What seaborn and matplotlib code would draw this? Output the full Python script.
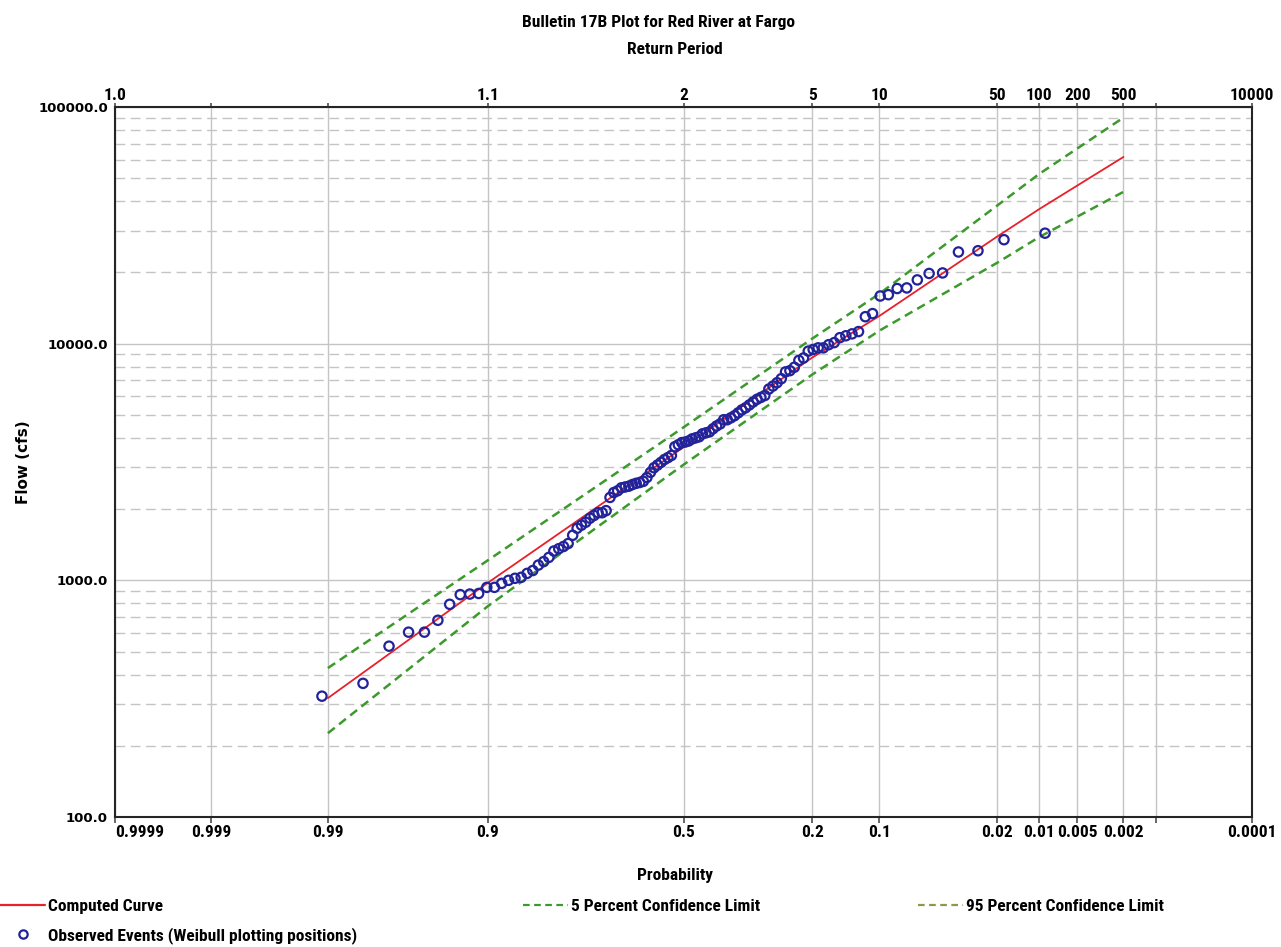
import math
from statistics import NormalDist
import numpy as np
import seaborn as sns
import matplotlib.pyplot as plt
from matplotlib.ticker import FixedLocator, LogLocator, NullFormatter

# observed annual peaks (cfs), largest first
observed_flow = [
    29300, 27500, 24700, 24400, 19900, 19800, 18600, 17200, 17100, 16100,
    15900, 13400, 13000, 11250, 11000, 10800, 10600, 10100, 9900, 9600,
    9600, 9450, 9300, 8700, 8500, 7950, 7690, 7600, 7110, 6840,
    6620, 6430, 6040, 5930, 5820, 5670, 5510, 5360, 5250, 5100,
    4960, 4860, 4770, 4770, 4580, 4490, 4370, 4240, 4200, 4160,
    4040, 4000, 3960, 3880, 3840, 3820, 3740, 3670, 3370, 3300,
    3240, 3150, 3070, 2990, 2860, 2720, 2620, 2590, 2570, 2540,
    2500, 2480, 2460, 2390, 2350, 2240, 1970, 1930, 1930, 1880,
    1830, 1760, 1710, 1660, 1550, 1430, 1390, 1360, 1330, 1250,
    1200, 1160, 1100, 1070, 1030, 1020, 1000, 971, 934, 934,
    880, 875, 870, 792, 678, 604, 604, 527, 367, 324,
]

# frequency curves
curve_prob = [0.99, 0.9, 0.5, 0.2, 0.1, 0.02, 0.01, 0.002]
computed_flow = [318, 975, 3650, 8730, 13100, 28400, 37000, 61500]
limit_5_flow = [426, 1213, 4430, 10500, 16250, 38400, 52100, 90200]
limit_95_flow = [226, 776, 3080, 7400, 11350, 22000, 28200, 43800]

# axis ticks
prob_ticks = [0.9999, 0.999, 0.99, 0.9, 0.5, 0.2, 0.1, 0.02, 0.01, 0.005, 0.002, 0.001, 0.0001]
prob_labels = ['0.9999', '0.999', '0.99', '0.9', '0.5', '0.2', '0.1', '0.02', '0.01', '0.005', '0.002', '', '0.0001']
return_labels = ['1.0', '', '', '1.1', '2', '5', '10', '50', '100', '200', '500', '', '10000']

# Weibull plotting positions m/(n+1)
n = len(observed_flow)
observed_prob = [m / (n + 1) for m in range(1, n + 1)]

_nd = NormalDist()
_inv_cdf = np.vectorize(_nd.inv_cdf, otypes=[float])
_erfc = np.vectorize(math.erfc, otypes=[float])


def fwd(p):
    p = np.clip(np.asarray(p, dtype=float), 1e-12, 1 - 1e-12)
    return -_inv_cdf(p)


def inv(z):
    return 0.5 * _erfc(np.asarray(z, dtype=float) / np.sqrt(2))


def put_high_prob_left(a):
    # make sure 0.9999 sits at the left edge, 0.0001 at the right
    a.set_xlim(0.9999, 0.0001)
    left = a.transData.transform((0.9999, 1000))[0]
    right = a.transData.transform((0.0001, 1000))[0]
    if left > right:
        a.invert_xaxis()


sns.set_theme(style='white')
narrow = ['Liberation Sans Narrow', 'DejaVu Sans Condensed', 'Roboto Condensed', 'Liberation Sans']
plt.rcParams['font.family'] = narrow
plt.rcParams['text.color'] = 'black'
plt.rcParams['axes.labelcolor'] = 'black'
plt.rcParams['xtick.color'] = 'black'
plt.rcParams['ytick.color'] = 'black'

fig = plt.figure(figsize=(12.81, 9.47), dpi=100)
ax = fig.add_axes([115 / 1281, 1 - 817 / 947, (1252 - 115) / 1281, (817 - 107) / 947])
ax.set_xscale('function', functions=(fwd, inv))
ax.set_yscale('log')

green = '#3c9a2c'
sns.lineplot(x=curve_prob, y=limit_5_flow, ax=ax, color=green, lw=1.8,
             linestyle=(0, (3.5, 2.2)), sort=False, estimator=None)
sns.lineplot(x=curve_prob, y=limit_95_flow, ax=ax, color=green, lw=1.8,
             linestyle=(0, (3.5, 2.2)), sort=False, estimator=None)
sns.lineplot(x=curve_prob, y=computed_flow, ax=ax, color='#e8202a', lw=1.3,
             sort=False, estimator=None)
sns.scatterplot(x=observed_prob, y=observed_flow, ax=ax, marker='o', s=45,
                facecolor='none', edgecolor='#22229a', linewidth=1.6, zorder=5)

ax.set_ylim(100, 100000)
put_high_prob_left(ax)

# grid
ax.xaxis.set_major_locator(FixedLocator(prob_ticks))
ax.set_xticklabels(prob_labels)
ax.xaxis.set_minor_locator(FixedLocator([]))
ax.yaxis.set_major_locator(FixedLocator([100, 1000, 10000, 100000]))
ax.set_yticklabels(['100.0', '1000.0', '10000.0', '100000.0'])
ax.yaxis.set_minor_locator(LogLocator(base=10, subs=np.arange(2, 10)))
ax.yaxis.set_minor_formatter(NullFormatter())
ax.grid(which='major', axis='both', color='#c4c4c4', lw=1.0, linestyle='-')
ax.grid(which='minor', axis='y', color='#c4c4c4', lw=1.0, linestyle=(0, (7, 4)))
ax.set_axisbelow(True)
for side in ['left', 'bottom', 'top', 'right']:
    ax.spines[side].set_color('#222222')
    ax.spines[side].set_linewidth(1.5)

ax.tick_params(axis='x', which='major', length=4, color='#555555', pad=2,
               labelsize=12.5)
ax.tick_params(axis='y', which='major', length=4, color='#555555', pad=1,
               labelsize=10)
ax.tick_params(axis='y', which='minor', length=0)
xlabs = ax.get_xticklabels()
for lab in xlabs:
    lab.set_fontweight('bold')
xlabs[0].set_horizontalalignment('left')
for lab in ax.get_yticklabels():
    lab.set_fontweight('bold')
    lab.set_family('DejaVu Sans')
    lab.set_fontsize(9.5)

# return period on top
ax2 = ax.twiny()
ax2.set_xscale('function', functions=(fwd, inv))
put_high_prob_left(ax2)
ax2.xaxis.set_major_locator(FixedLocator(prob_ticks))
ax2.set_xticklabels(return_labels)
ax2.xaxis.set_minor_locator(FixedLocator([]))
ax2.tick_params(axis='x', length=3, color='#555555', pad=0, labelsize=12.5)
for lab in ax2.get_xticklabels():
    lab.set_fontweight('bold')
ax2.grid(False)

ax.set_xlabel('Probability', fontsize=12.5, fontweight='bold', labelpad=20)
ax.xaxis.label.set_x((675 - 115) / 1137)
ax.set_ylabel('Flow (cfs)', fontsize=11, fontweight='bold', family='DejaVu Sans', labelpad=5)

fig.text(658 / 1281, 1 - 22 / 947, 'Bulletin 17B Plot for Red River at Fargo', ha='center', va='center',
         fontsize=12.5, fontweight='bold')
fig.text(675 / 1281, 1 - 50 / 947, 'Return Period', ha='center', va='center',
         fontsize=12.5, fontweight='bold')

# legends along the bottom
h_comp = plt.Line2D([], [], color='#e8202a', lw=1.6)
h_obs = plt.Line2D([], [], color='#22229a', marker='o', markersize=6, linestyle='none',
                   markerfacecolor='none', markeredgewidth=1.6)
h_5 = plt.Line2D([], [], color=green, lw=1.6, linestyle=(0, (3, 2)))
h_95 = plt.Line2D([], [], color='#8a9a48', lw=1.6, linestyle=(0, (3, 2)))
leg_kw = dict(frameon=False, borderpad=0, borderaxespad=0, handletextpad=0.15,
              handlelength=2.6, prop={'weight': 'bold', 'size': 12.5})
fig.legend([h_comp, h_obs], ['Computed Curve', 'Observed Events (Weibull plotting positions)'],
           loc='upper left', bbox_to_anchor=(0.0, 1 - 899 / 947), labelspacing=0.75, **leg_kw)
fig.legend([h_5], ['5 Percent Confidence Limit'],
           loc='upper left', bbox_to_anchor=(523 / 1281, 1 - 899 / 947), **leg_kw)
fig.legend([h_95], ['95 Percent Confidence Limit'],
           loc='upper left', bbox_to_anchor=(918 / 1281, 1 - 899 / 947), **leg_kw)

fig.savefig('out.png', dpi=100)
